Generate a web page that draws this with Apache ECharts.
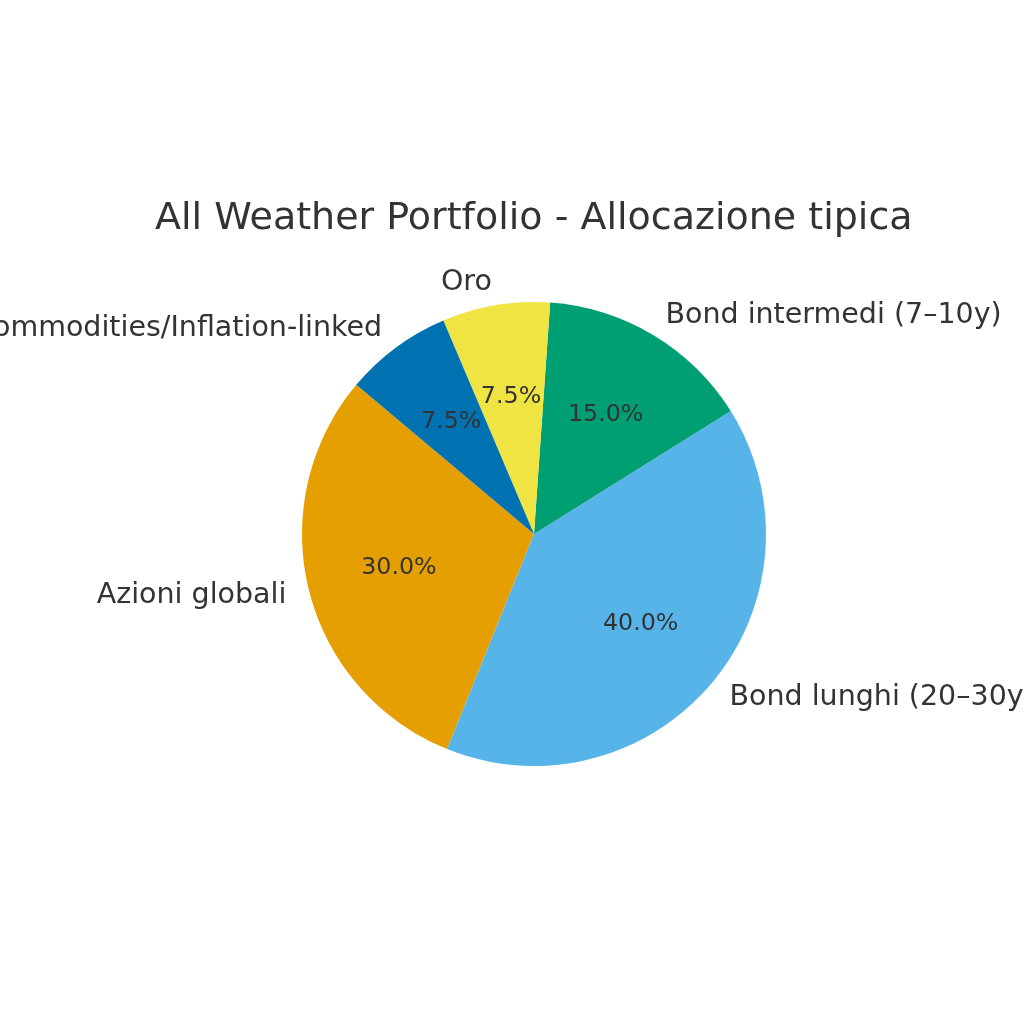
<!DOCTYPE html>
<html><head><meta charset="utf-8">
<script src="https://cdn.jsdelivr.net/npm/echarts@6/dist/echarts.min.js"></script>
<style>html,body{margin:0;padding:0;background:#fff}#c{width:1024px;height:1024px}</style>
</head><body><div id="c"></div>
<script>
const categories = ['Azioni globali','Bond lunghi (20–30y)','Bond intermedi (7–10y)','Oro','Commodities/Inflation-linked'];
const values = [30, 40, 15, 7.5, 7.5];
const colors = ['#E69F00','#56B4E9','#009E73','#F0E442','#0072B2'];
const titleText = 'All Weather Portfolio - Allocazione tipica';

const R = 232;
const total = values.reduce((a,b)=>a+b,0);
const data = categories.map((c,i)=>({name:c,value:values[i],itemStyle:{color:colors[i]}}));
const font = 'DejaVu Sans';
const chart = echarts.init(document.getElementById('c'), null, {renderer:'canvas'});
chart.setOption({
  animation:false,
  backgroundColor:'#fff',
  title:{text:titleText,left:150,top:195,textStyle:{fontFamily:font,fontSize:38,fontWeight:'normal',color:'#333333'}},
  series:[
    {type:'pie',center:[534,534],radius:[0,R],startAngle:140,clockwise:false,avoidLabelOverlap:false,silent:true,
     data:data,
     label:{show:true,position:'outside',fontFamily:font,fontSize:28.5,color:'#333333',distanceToLabelLine:0,formatter:'{b}'},
     labelLine:{show:false,length:R*0.1,length2:0}},
    {type:'pie',center:[534,534],radius:[40.4,R],startAngle:140,clockwise:false,avoidLabelOverlap:false,silent:true,
     data:categories.map((c,i)=>({name:c,value:values[i],itemStyle:{color:'rgba(0,0,0,0)'}})),
     label:{show:true,position:'inside',fontFamily:font,fontSize:23.75,color:'#333333',
       formatter:p=>(p.value/total*100).toFixed(1)+'%'},
     labelLine:{show:false}}
  ]
});
</script></body></html>
